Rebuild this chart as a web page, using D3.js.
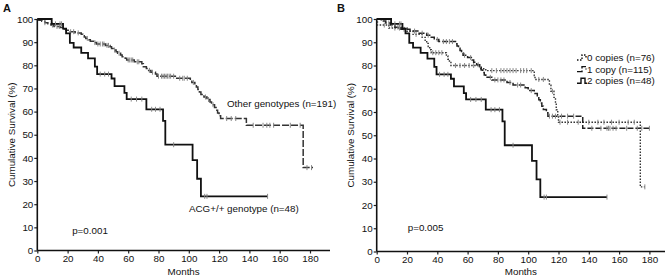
<!DOCTYPE html>
<meta charset="utf-8">
<head>
  <title>Survival curves</title>
</head>

<style>
  body { margin: 0; background: #fff; }
  text {
    font-family: "Liberation Sans", Arial, Helvetica, sans-serif;
    font-size: 9.8px;
    fill: #111;
  }
  .panel-label { font-size: 11px; font-weight: bold; }
</style>

<body>
<script src="https://d3js.org/d3.v7.min.js"></script>
<div id="chart"></div>
<script>

var monthTicks = [0, 20, 40, 60, 80, 100, 120, 140, 160, 180];
var survivalTicks = [0, 10, 20, 30, 40, 50, 60, 70, 80, 90, 100];

// ACG+/+ genotype (n=48) == 2 copies (n=48)
var acgSteps = [[0,100],[9.5,97.9],[17,95.8],[19,93.8],[21.5,89.7],[24,87.7],[29,85.4],[33.5,83],[38,79.4],
  [39.5,76.2],[49,74.3],[51,71],[57.5,68.1],[59,65.4],[72,61],[83,56],[84.5,45.7],[102.5,39],[105.5,31],
  [108,23.4],[152,23.4]];
var acgCensored = [12, 15, 16, 41.5, 44.5, 47, 62, 65.5, 69, 75.5, 78, 81, 90, 110.5, 112, 152];

// Other genotypes (n=191)
var otherSteps = [[0,100],[1,99.5],[3,99],[5,98.4],[7,97.9],[9,97.4],[11,96.8],[15,96.3],[17,95.7],[19,95.1],
  [21,94.5],[25,94],[29,93.4],[30,92.8],[31,92.2],[32,91.6],[34,91],[35,90.4],[37,89.8],[39,89.2],[45,88.6],
  [48,88],[49,87.3],[50,86.6],[52,85.9],[53,85.2],[55,84.5],[56,83.7],[58,83],[59,82.3],[64,81.5],[69,80.7],
  [70,79.4],[72,78.6],[73,77.8],[75,77],[78,76.2],[79,75.3],[92,74.4],[101,73.5],[102,72.6],[104,71.6],
  [105,70.6],[106,69.6],[107,68.5],[108,67.4],[110,66.3],[112,65.2],[114,64.1],[115,63],[117,61.8],
  [118,60.6],[119,59.4],[120,58.2],[121,57],[138,54.1],[175.5,35.8],[182,35.8]];
var otherCensored = [5, 10, 13, 14.5, 22, 24, 27, 33, 38, 40, 41.5, 43, 44, 46, 47, 51, 54, 60, 61, 62, 63,
  66, 67, 74, 76, 80, 82, 83, 84, 85, 86, 87, 88, 90, 94, 96, 97, 99, 103, 111, 113, 116, 125, 128, 131,
  142.5, 149, 151.5, 153.5, 156, 167, 173.5, 178, 181];

// 0 copies (n=76)
var zeroSteps = [[0,100],[0.5,97.4],[8,96.1],[20,94.7],[24,93.4],[30,92.1],[32,90.8],[33,89.5],[34,88.2],
  [35,86.8],[36,85.5],[46,84.1],[47,82.7],[48,81.3],[49,80],[68,78.6],[72,77.8],[104,75.7],[104.5,74],
  [114,71.5],[115,68.9],[117,66.3],[118,63.7],[118.5,61],[119.5,58.3],[120,55.6],[174,27.8],[177,27.8]];
var zeroCensored = [5, 12, 15, 26, 37, 39, 41, 43, 52, 55, 58, 61, 64, 76, 79, 82, 84, 86, 88, 90, 92, 95,
  97, 99, 102, 107, 110, 116, 121, 126, 133, 140, 146, 150, 155, 160, 166, 170, 177];

// 1 copy (n=115)
var oneSteps = [[0,100],[3,99.1],[6,98.3],[9,97.4],[12,96.5],[16,95.6],[22,94.8],[28,93.9],[33,93],
  [36,92.1],[38,91.2],[41,90.3],[52,89.4],[53,88.4],[54,87.4],[55,86.4],[56,85.4],[57,84.4],[60,83.4],
  [63,82.4],[64,81.4],[66,80.3],[68,79.2],[69,78.1],[70,77],[71,75.9],[72,74.9],[76,73.8],[86,72.7],
  [90,71.6],[98,70.4],[100,69.2],[104,68],[106,66.7],[107,65.3],[108,63.9],[109,62.5],[110,61.1],
  [112,59.7],[113,58.2],[136,53],[180,53]];
var oneCensored = [8, 10, 14, 18, 25, 30, 34, 40, 44, 46, 48, 50, 58, 62, 67, 75, 78, 80, 82, 84, 88, 93,
  95, 102, 114, 116, 118, 122, 126, 130, 142, 148, 152, 153, 154, 156, 158, 165, 172, 175, 180];

var width = 668, height = 278;

var svg = d3.select("#chart")
  .append("svg")
  .attr("width", width)
  .attr("height", height);

function survivalAt(steps, t) {
  var s = steps[0][1];
  steps.forEach(function(d) { if (d[0] <= t) s = d[1]; });
  return s;
}

function drawPanel(p) {
  var x = d3.scaleLinear().domain([0, 180]).range([p.x0, p.x180]);
  var y = d3.scaleLinear().domain([0, 100]).range([p.yBot, p.yTop]);
  var g = svg.append("g");

  // axes
  var xAxis = g.append("g")
    .attr("transform", "translate(0," + p.yBot + ")")
    .call(d3.axisBottom(x).tickValues(monthTicks).tickSize(3).tickPadding(2));
  var yAxis = g.append("g")
    .attr("transform", "translate(" + p.x0 + ",0)")
    .call(d3.axisLeft(y).tickValues(survivalTicks).tickSize(3).tickPadding(1));
  xAxis.select(".domain").remove();
  yAxis.select(".domain").remove();
  [xAxis, yAxis].forEach(function(a) {
    a.selectAll("text").style("font-family", "Liberation Sans, Arial, sans-serif").style("font-size", "9.8px").attr("fill", "#111");
    a.selectAll("line").attr("stroke", "#222").attr("stroke-width", 1.2);
  });
  g.append("line").attr("x1", p.x0).attr("x2", p.axisEnd).attr("y1", p.yBot).attr("y2", p.yBot)
    .attr("stroke", "#111").attr("stroke-width", 1.6);
  g.append("line").attr("x1", p.x0).attr("x2", p.x0).attr("y1", p.yBot).attr("y2", p.yTop)
    .attr("stroke", "#111").attr("stroke-width", 1.6);

  var line = d3.line()
    .x(function(d) { return x(d[0]); })
    .y(function(d) { return y(d[1]); })
    .curve(d3.curveStepAfter);

  p.series.forEach(function(s) {
    g.append("path")
      .datum(s.steps)
      .attr("fill", "none")
      .attr("stroke", s.color)
      .attr("stroke-width", s.width)
      .attr("stroke-dasharray", s.dash)
      .attr("d", line);
    g.selectAll(null)
      .data(s.censored)
      .enter()
      .append("line")
      .attr("x1", function(d) { return x(d); })
      .attr("x2", function(d) { return x(d); })
      .attr("y1", function(d) { return y(survivalAt(s.steps, d)) - 2.5; })
      .attr("y2", function(d) { return y(survivalAt(s.steps, d)) + 2.5; })
      .attr("stroke", "#888")
      .attr("stroke-width", 1);
  });

  g.append("text").attr("class", "panel-label").attr("x", p.labelX).attr("y", 12).text(p.label);
  g.append("text")
    .attr("transform", "translate(" + (p.x0 - 22.5) + "," + ((p.yTop + p.yBot) / 2) + ") rotate(-90)")
    .attr("text-anchor", "middle")
    .text("Cumulative Survival (%)");
  g.append("text")
    .attr("x", (p.x0 + p.axisEnd) / 2)
    .attr("y", 275)
    .attr("text-anchor", "middle")
    .text("Months");
  g.append("text").attr("x", x(p.pPos[0])).attr("y", y(p.pPos[1])).text(p.pText);
  return { x: x, y: y, g: g };
}

var a = drawPanel({
  x0: 37.3, x180: 310, yTop: 19, yBot: 250.5, axisEnd: 330,
  label: "A", labelX: 3, pText: "p=0.001", pPos: [23, 7],
  series: [
    { steps: otherSteps, censored: otherCensored, color: "#333", width: 1.5, dash: "7,2" },
    { steps: acgSteps, censored: acgCensored, color: "#111", width: 1.8, dash: null }
  ]
});
a.g.append("text").attr("x", 227).attr("y", 107).text("Other genotypes (n=191)");
a.g.append("text").attr("x", 189).attr("y", 212).text("ACG+/+ genotype (n=48)");

var b = drawPanel({
  x0: 376.7, x180: 649.4, yTop: 19, yBot: 251.5, axisEnd: 665,
  label: "B", labelX: 337, pText: "p=0.005", pPos: [20.5, 9],
  series: [
    { steps: zeroSteps, censored: zeroCensored, color: "#333", width: 1.4, dash: "1.5,1.5" },
    { steps: oneSteps, censored: oneCensored, color: "#222", width: 1.5, dash: "6,2" },
    { steps: acgSteps, censored: acgCensored, color: "#111", width: 1.8, dash: null }
  ]
});

// legend
var legendNames = ["0 copies (n=76)", "1 copy (n=115)", "2 copies (n=48)"];
var legendDash = ["1.5,1.5", "6,2", null];
var legend = b.g.selectAll(".legend")
  .data(legendNames)
  .enter()
  .append("g")
  .attr("transform", function(d, i) { return "translate(577," + (61 + i * 11.6) + ")"; });
legend.append("path")
  .attr("d", function(d, i) { return i < 2 ? "M0,-1H5V-6H9V-3" : "M0,-1H4V-6H8V-1H10"; })
  .attr("fill", "none")
  .attr("stroke", "#111")
  .attr("stroke-width", 1.4)
  .attr("stroke-dasharray", function(d, i) { return legendDash[i]; });
legend.append("text").attr("x", 10).attr("y", 0).text(function(d) { return d; });

</script>
</body>
</html>
